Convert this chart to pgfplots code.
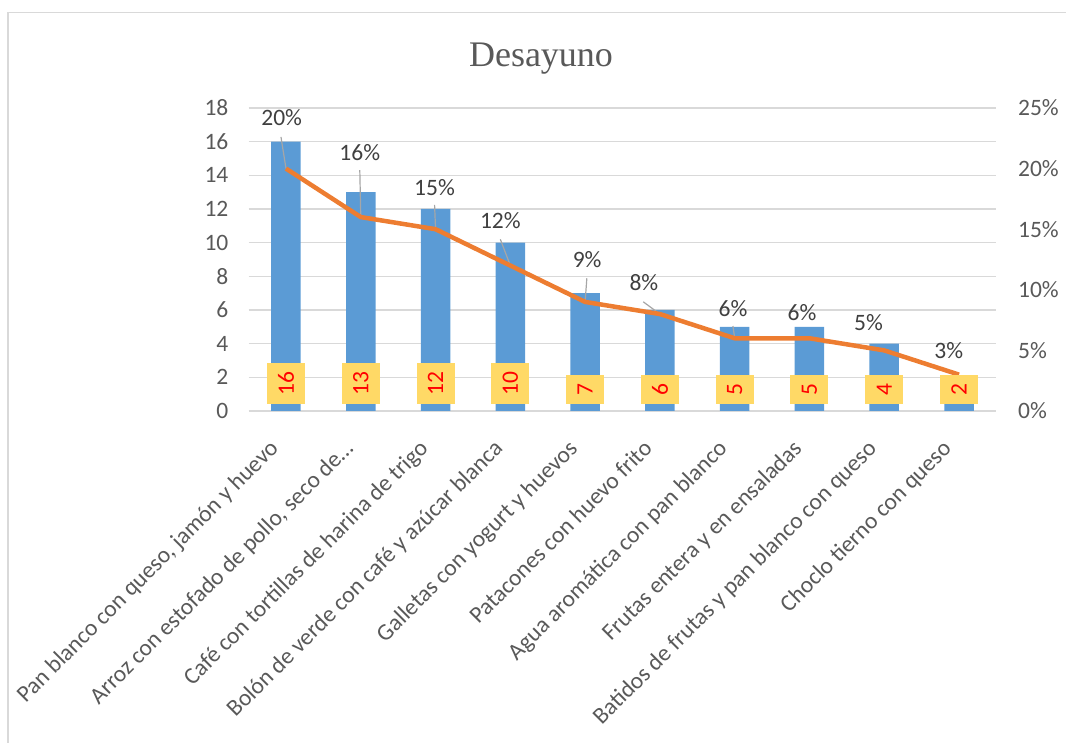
\documentclass[border=0pt]{standalone}
\usepackage{fontspec}
\setmainfont{Carlito}
\newfontfamily\titlefont{Liberation Serif}
\usepackage{pgfplots}
\pgfplotsset{compat=1.18}
\usepackage{pgfplotstable}
\definecolor{barblue}{HTML}{5B9BD5}
\definecolor{lineorange}{HTML}{ED7D31}
\definecolor{gridgray}{HTML}{D9D9D9}
\definecolor{ticktext}{HTML}{595959}
\definecolor{labtext}{HTML}{404040}
\definecolor{boxyellow}{HTML}{FFD966}
\definecolor{leadgray}{HTML}{A6A6A6}
\pgfplotsset{/pgf/number format/assume math mode=true}
\newcommand{\chartfont}{\fontsize{23.5bp}{28bp}\selectfont}

\pgfplotstableread{
x n base pct dx dy
0 16 0 20 -4.3 50.6
1 13 0 16 -1 64
2 12 0 15 -1 41.2
3 10 0 12 -10 45
4 7 0 9 2 42
5 6 0 8 -16 31
6 5 0 6 -1.7 29.3
7 5 0 6 -7.5 25.3
8 4 0 5 -15.7 27.4
9 2 0 3 -10.2 23.6
}\datatab

\pgfplotstableread{
x y u v
0 20 -0.067 2.61
1 16 -0.013 3.88
2 15 -0.013 2.00
3 12 -0.134 2.17
4 9 0.023 1.95
5 8 -0.223 1.01
6 6 -0.023 1.01
}\leadtab

\begin{document}
\begin{tikzpicture}
\useasboundingbox (0bp,0bp) rectangle (1066bp,743bp);
\draw[gridgray, line width=1.3bp] (8bp,0bp) -- (8bp,730.3bp) -- (1066bp,730.3bp);
\node[anchor=base, font=\titlefont\fontsize{36bp}{40bp}\selectfont, text=ticktext, inner sep=0pt] at (541bp,676.3bp) {Desayuno};

\begin{axis}[
  at={(248.6bp,332bp)}, anchor=south west,
  scale only axis, width=747.8bp, height=303bp,
  xmin=-0.5, xmax=9.5, ymin=0, ymax=18,
  ytick={0,2,...,18},
  xtick={0,...,9},
  xticklabels={{Pan blanco con queso, jamón y huevo},{Arroz con estofado de pollo, seco de…},{Café con tortillas de harina de trigo},{Bolón de verde con café y azúcar blanca},{Galletas con yogurt y huevos},{Patacones con huevo frito},{Agua aromática con pan blanco},{Frutas entera y en ensaladas},{Batidos de frutas y pan blanco con queso},{Choclo tierno con queso}},
  axis line style={draw=none},
  major tick length=0pt,
  ymajorgrids,
  grid style={gridgray, line width=1.3bp},
  tick label style={font=\chartfont, text=ticktext},
  yticklabel style={inner sep=0pt, xshift=-20bp},
  xticklabel style={xshift=-18bp, yshift=-27bp, rotate=45, anchor=north east, inner sep=0pt},
  clip=false]
\addplot[ybar, bar width=29.5bp, bar shift=0pt, fill=barblue, draw=none] table[x=x, y=n] {\datatab};
\end{axis}

\begin{axis}[
  at={(248.6bp,332bp)}, anchor=south west,
  scale only axis, width=747.8bp, height=303bp,
  xmin=-0.5, xmax=9.5, ymin=0, ymax=25,
  ytick={0,5,...,25},
  yticklabels={0\%,5\%,10\%,15\%,20\%,25\%},
  yticklabel pos=right,
  hide x axis,
  axis line style={draw=none},
  major tick length=0pt,
  tick label style={font=\chartfont, text=ticktext},
  yticklabel style={anchor=west, inner sep=0pt, xshift=21.5bp},
  clip=false]
\addplot[leadgray, line width=1.2bp, -, mark=none, quiver={u=\thisrow{u}, v=\thisrow{v}}] table[x=x, y=y] {\leadtab};
\addplot[lineorange, line width=4.5bp, mark=none, line join=round,
  nodes near coords={\pgfmathprintnumber{\pgfplotspointmeta}\%},
  point meta=\thisrow{pct},
  visualization depends on={\thisrow{dx} \as \lx},
  visualization depends on={\thisrow{dy} \as \ly},
  every node near coord/.append style={anchor=center, xshift=\lx bp, yshift=\ly bp, font=\chartfont, text=labtext}
  ] table[x=x, y=pct] {\datatab};
\addplot[draw=none, mark=none,
  nodes near coords,
  point meta=\thisrow{n},
  every node near coord/.append style={yshift=7bp, rotate=90, anchor=west, fill=boxyellow, text=red, inner xsep=8.4bp, inner ysep=0pt, minimum height=38bp, font=\chartfont}
  ] table[x=x, y=base] {\datatab};
\end{axis}
\end{tikzpicture}
\end{document}
